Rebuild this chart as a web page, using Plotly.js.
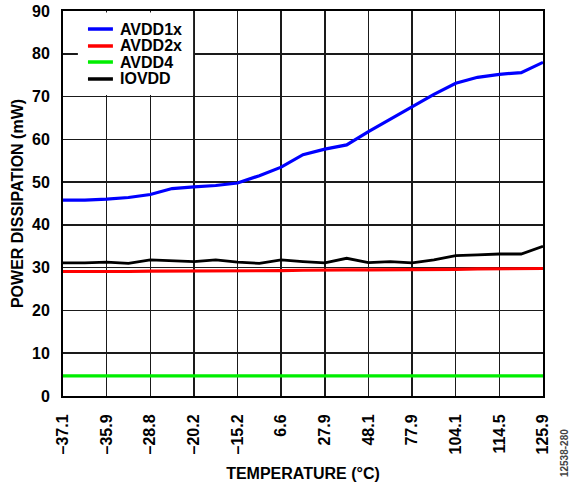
<!DOCTYPE html>
<html>
<head>
<meta charset="utf-8">
<script src="https://cdn.plot.ly/plotly-3.0.1.min.js"></script>
<style>html,body{margin:0;padding:0;background:#fff;}#chart{width:570px;height:484px;}</style>
</head>
<body>
<div id="chart"></div>
<script>
const xIndex = [0,1,2,3,4,5,6,7,8,9,10,11,12,13,14,15,16,17,18,19,20,21,22];
const tickPositions = [0,2,4,6,8,10,12,14,16,18,20,22];
const tickLabels = ['–37.1','–35.9','–28.8','–20.2','–15.2','6.6','27.9','48.1','77.9','104.1','114.5','125.9'];
const seriesNames = ['AVDD1x','AVDD2x','AVDD4','IOVDD'];
const seriesColors = ['#0000ff','#ff0000','#00ee00','#000000'];
const avdd1x = [45.8,45.8,46.0,46.4,47.1,48.5,48.9,49.2,49.8,51.5,53.5,56.4,57.7,58.7,61.8,64.7,67.6,70.5,73.1,74.5,75.2,75.6,78.0];
const avdd2x = [29.1,29.1,29.0,29.1,29.2,29.2,29.2,29.2,29.2,29.2,29.3,29.4,29.5,29.5,29.5,29.5,29.6,29.6,29.6,29.7,29.7,29.7,29.8];
const avdd4  = [4.7,4.7,4.7,4.7,4.7,4.7,4.7,4.7,4.7,4.7,4.7,4.7,4.7,4.7,4.7,4.7,4.7,4.7,4.7,4.7,4.7,4.7,4.7];
const iovdd  = [31.1,31.1,31.3,31.0,31.8,31.6,31.4,31.8,31.3,31.0,31.8,31.4,31.1,32.2,31.2,31.4,31.1,31.8,32.8,33.0,33.2,33.2,35.0];
const seriesValues = [avdd1x, avdd2x, avdd4, iovdd];
const xTitle = 'TEMPERATURE (°C)';
const yTitle = 'POWER DISSIPATION (mW)';
const figureId = '12538-280';

const FONT = 'Liberation Sans, Arial, Helvetica, sans-serif';
const FS = 16;
const widths = [3.2, 3.2, 3.2, 2.8];

const traces = seriesNames.map((n, i) => ({
  type: 'scatter', mode: 'lines', name: n,
  x: xIndex, y: seriesValues[i],
  line: {color: seriesColors[i], width: widths[i]},
  showlegend: false, hoverinfo: 'skip'
}));

// manual legend (Plotly's legend row spacing is larger than the reference)
const legTextX = 0.1146;
const legRows = [0.9532, 0.9091, 0.8675, 0.8234];
const shapes = [{
  type: 'rect', xref: 'paper', yref: 'paper', x0: 0.031, x1: 0.271, y0: 0.782, y1: 0.996,
  fillcolor: '#ffffff', line: {width: 0}, layer: 'above'
}];
const annotations = [];
seriesNames.forEach((n, i) => {
  shapes.push({type: 'line', xref: 'paper', yref: 'paper', x0: 0.052, x1: 0.104,
    y0: legRows[i], y1: legRows[i], line: {color: seriesColors[i], width: 3.5}, layer: 'above'});
  annotations.push({xref: 'paper', yref: 'paper', x: legTextX, y: legRows[i], text: n,
    showarrow: false, xanchor: 'left', yanchor: 'middle',
    font: {family: FONT, size: FS, weight: 'bold', color: '#000'}});
});
annotations.push({xref: 'paper', yref: 'paper', x: 1.046, y: -0.148, text: figureId, textangle: -90,
  showarrow: false, xanchor: 'center', yanchor: 'middle',
  font: {family: FONT, size: 10, color: '#444'}});

const layout = {
  width: 570, height: 484,
  margin: {l: 63, r: 27, t: 11, b: 88, pad: 0},
  paper_bgcolor: '#fff', plot_bgcolor: '#fff',
  font: {family: FONT, size: FS, weight: 'bold', color: '#000'},
  showlegend: false,
  xaxis: {
    range: [0, 22], tickmode: 'array', tickvals: tickPositions, ticktext: tickLabels,
    tickangle: -90, ticks: '', ticklabelstandoff: 10,
    showgrid: true, gridcolor: '#1a1a1a', gridwidth: 1.5,
    showline: true, linecolor: '#000', linewidth: 2, mirror: true, zeroline: false,
    tickfont: {family: FONT, size: FS, weight: 'bold'},
    title: {text: xTitle, font: {family: FONT, size: FS, weight: 'bold'}, standoff: 14},
    automargin: false, fixedrange: true
  },
  yaxis: {
    range: [0, 90], tickmode: 'array', tickvals: [0,10,20,30,40,50,60,70,80,90],
    ticks: '', ticklabelstandoff: 8,
    showgrid: true, gridcolor: '#1a1a1a', gridwidth: 1.5,
    showline: true, linecolor: '#000', linewidth: 2, mirror: true, zeroline: false,
    tickfont: {family: FONT, size: FS, weight: 'bold'},
    title: {text: yTitle, font: {family: FONT, size: FS, weight: 'bold'}, standoff: 4},
    automargin: false, fixedrange: true
  },
  shapes: shapes,
  annotations: annotations
};

Plotly.newPlot('chart', traces, layout, {staticPlot: true, displayModeBar: false});
</script>
</body>
</html>
